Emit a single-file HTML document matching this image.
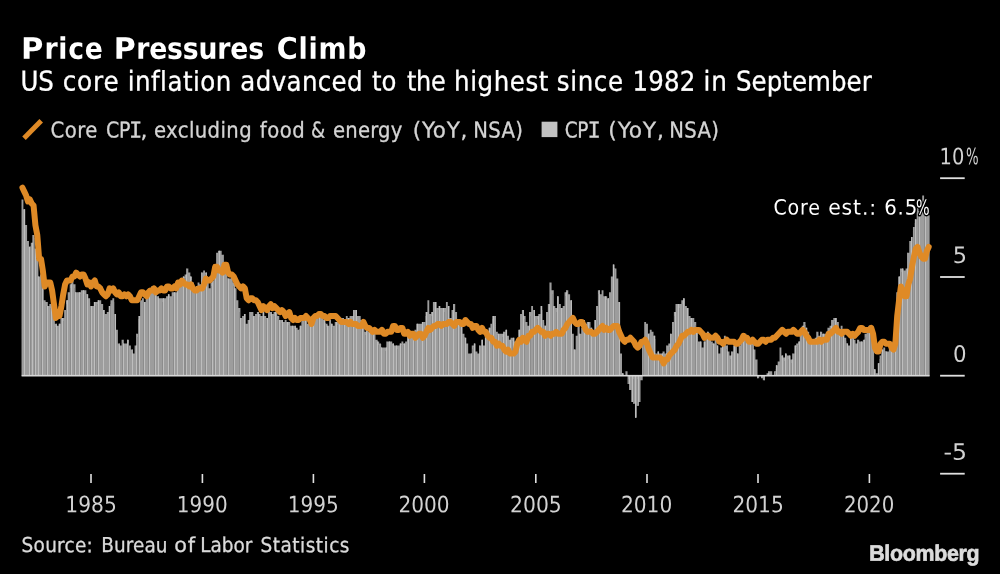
<!DOCTYPE html>
<html lang="en">
<head>
<meta charset="utf-8">
<title>Price Pressures Climb</title>
<style>
html,body{margin:0;padding:0;background:#000;}
body{width:1000px;height:574px;overflow:hidden;}
svg{display:block;}
text{font-family:"DejaVu Sans Condensed","DejaVu Sans","Liberation Sans",sans-serif;fill:#fff;white-space:pre;}
.title text{font-size:29.6px;font-weight:bold;fill:#fff;}
.sub text{font-size:27.2px;fill:#fff;stroke:#fff;stroke-width:0.3px;}
.leg text{font-size:21.8px;fill:#d4d4d4;stroke:#d4d4d4;stroke-width:0.3px;}
.ax text{font-size:22.5px;fill:#d2d2d2;}
.src text{font-size:20.5px;fill:#dadada;stroke:#dadada;stroke-width:0.3px;}
.ann text{font-size:21.0px;fill:#fff;stroke:#000;stroke-width:3px;paint-order:stroke;stroke-linejoin:round;}
.logo text{font-size:22.3px;font-family:"Liberation Sans","DejaVu Sans",sans-serif;font-weight:bold;fill:#dcdcdc;stroke:#dcdcdc;stroke-width:0.7px;letter-spacing:-0.3px;}
</style>
</head>
<body>
<svg width="1000" height="574" viewBox="0 0 1000 574">
<rect width="1000" height="574" fill="#000"/>
<g class="title">
<text transform="translate(20.97,58.66) rotate(0.05)"><tspan textLength="22.39" lengthAdjust="spacingAndGlyphs">P</tspan><tspan x="23.43" style='letter-spacing:0.80px;'>rice</tspan></text>
<text transform="translate(113.79,58.66) rotate(0.05)"><tspan textLength="21.96" lengthAdjust="spacingAndGlyphs">P</tspan><tspan x="22.36" style='letter-spacing:-0.13px;'>ressures</tspan></text>
<text transform="translate(276.66,58.66) rotate(0.05)"><tspan textLength="21.01" lengthAdjust="spacingAndGlyphs">C</tspan><tspan x="21.88" textLength="68.73" lengthAdjust="spacingAndGlyphs" style='letter-spacing:0.80px;'>limb</tspan></text>
</g>
<g class="sub">
<text transform="translate(20.60,90.6) rotate(0.05)" style='letter-spacing:-0.20px;'>US</text>
<text transform="translate(62.74,90.6) rotate(0.05) scale(1.0095,1)" style='letter-spacing:0.80px;'>core</text>
<text transform="translate(127.75,90.6) rotate(0.05)" style='letter-spacing:0.49px;'>inflation</text>
<text transform="translate(240.35,90.6) rotate(0.05)" style='letter-spacing:0.39px;'>advanced</text>
<text transform="translate(372.10,90.6) rotate(0.05) scale(0.9933,1)" style='letter-spacing:-0.20px;'>to</text>
<text transform="translate(406.91,90.6) rotate(0.05) scale(0.9764,1)" style='letter-spacing:-0.20px;'>the</text>
<text transform="translate(454.00,90.6) rotate(0.05)" style='letter-spacing:0.62px;'>highest</text>
<text transform="translate(556.75,90.6) rotate(0.05)" style='letter-spacing:0.69px;'>since</text>
<text transform="translate(632.50,90.6) rotate(0.05)" style='letter-spacing:0.17px;'>1982</text>
<text transform="translate(703.53,90.6) rotate(0.05) scale(1.0079,1)" style='letter-spacing:0.80px;'>in</text>
<text transform="translate(735.90,90.6) rotate(0.05)" style='letter-spacing:0.08px;'>September</text>
</g>
<line x1="24" y1="138.2" x2="41.2" y2="120.8" stroke="#df8a26" stroke-width="5"/>
<rect x="541.6" y="121.7" width="15.8" height="15.4" fill="#c2c2c2"/>
<g class="leg">
<text transform="translate(50.60,137.4) rotate(0.05)" style='letter-spacing:0.50px;'>Core</text>
<text transform="translate(106.03,137.4) rotate(0.05)"><tspan textLength="24.29" lengthAdjust="spacingAndGlyphs" style='letter-spacing:-0.20px;'>CP</tspan><tspan x="22.93" textLength="13.34" lengthAdjust="spacingAndGlyphs" style='font-family:"DejaVu Sans Mono","Liberation Mono",monospace;'>I</tspan><tspan x="34.58" textLength="6.91" lengthAdjust="spacingAndGlyphs">,</tspan></text>
<text transform="translate(154.00,137.4) rotate(0.05)" style='letter-spacing:0.41px;'>excluding</text>
<text transform="translate(259.75,137.4) rotate(0.05)" style='letter-spacing:0.50px;'>food</text>
<text transform="translate(311.07,137.4) rotate(0.05) scale(0.9286,1)">&amp;</text>
<text transform="translate(333.00,137.4) rotate(0.05)" style='letter-spacing:0.20px;'>energy</text>
<text transform="translate(412.76,137.4) rotate(0.05) scale(1.0905,1)" style='letter-spacing:0.80px;'>(YoY,</text>
<text transform="translate(473.25,137.4) rotate(0.05)" style='letter-spacing:0.38px;'>NSA)</text>
<text transform="translate(564.66,137.4) rotate(0.05)"><tspan textLength="23.65" lengthAdjust="spacingAndGlyphs" style='letter-spacing:-0.20px;'>CP</tspan><tspan x="22.91" textLength="13.34" lengthAdjust="spacingAndGlyphs" style='font-family:"DejaVu Sans Mono","Liberation Mono",monospace;'>I</tspan></text>
<text transform="translate(608.34,137.4) rotate(0.05) scale(1.1076,1)" style='letter-spacing:0.80px;'>(YoY,</text>
<text transform="translate(669.25,137.4) rotate(0.05)" style='letter-spacing:0.38px;'>NSA)</text>
</g>
<clipPath id="bc"><path d="M21.52,375.70L21.52,199.42L23.38,199.42L23.38,209.30L25.23,209.30L25.23,225.10L27.08,225.10L27.08,240.90L28.94,240.90L28.94,246.82L30.79,246.82L30.79,242.87L32.64,242.87L32.64,234.97L34.50,234.97L34.50,248.80L36.35,248.80L36.35,258.67L38.20,258.67L38.20,276.45L40.06,276.45L40.06,274.48L41.91,274.48L41.91,284.35L43.76,284.35L43.76,300.15L45.62,300.15L45.62,302.12L47.47,302.12L47.47,306.07L49.32,306.07L49.32,304.10L51.18,304.10L51.18,298.18L53.03,298.18L53.03,306.07L54.88,306.07L54.88,323.85L56.74,323.85L56.74,325.82L58.59,325.82L58.59,323.85L60.44,323.85L60.44,317.93L62.30,317.93L62.30,317.93L64.15,317.93L64.15,310.02L66.00,310.02L66.00,300.15L67.86,300.15L67.86,292.25L69.71,292.25L69.71,284.35L71.56,284.35L71.56,280.40L73.42,280.40L73.42,284.35L75.27,284.35L75.27,292.25L77.12,292.25L77.12,292.25L78.98,292.25L78.98,292.25L80.83,292.25L80.83,290.27L82.68,290.27L82.68,290.27L84.54,290.27L84.54,290.27L86.39,290.27L86.39,294.23L88.24,294.23L88.24,298.18L90.10,298.18L90.10,306.07L91.95,306.07L91.95,306.07L93.80,306.07L93.80,302.12L95.66,302.12L95.66,302.12L97.51,302.12L97.51,300.15L99.36,300.15L99.36,300.15L101.22,300.15L101.22,304.10L103.07,304.10L103.07,310.02L104.92,310.02L104.92,313.97L106.78,313.97L106.78,312.00L108.63,312.00L108.63,306.07L110.48,306.07L110.48,300.15L112.34,300.15L112.34,298.18L114.19,298.18L114.19,313.97L116.04,313.97L116.04,329.77L117.89,329.77L117.89,343.60L119.75,343.60L119.75,345.57L121.60,345.57L121.60,339.65L123.45,339.65L123.45,343.60L125.31,343.60L125.31,343.60L127.16,343.60L127.16,339.65L129.01,339.65L129.01,345.57L130.87,345.57L130.87,349.52L132.72,349.52L132.72,353.47L134.57,353.47L134.57,345.57L136.43,345.57L136.43,333.72L138.28,333.72L138.28,315.95L140.13,315.95L140.13,300.15L141.99,300.15L141.99,298.18L143.84,298.18L143.84,302.12L145.69,302.12L145.69,298.18L147.55,298.18L147.55,290.27L149.40,290.27L149.40,288.30L151.25,288.30L151.25,286.32L153.11,286.32L153.11,286.32L154.96,286.32L154.96,288.30L156.81,288.30L156.81,296.20L158.67,296.20L158.67,298.18L160.52,298.18L160.52,298.18L162.37,298.18L162.37,298.18L164.23,298.18L164.23,298.18L166.08,298.18L166.08,296.20L167.93,296.20L167.93,294.23L169.79,294.23L169.79,296.20L171.64,296.20L171.64,292.25L173.49,292.25L173.49,292.25L175.35,292.25L175.35,292.25L177.20,292.25L177.20,288.30L179.05,288.30L179.05,282.38L180.91,282.38L180.91,280.40L182.76,280.40L182.76,276.45L184.61,276.45L184.61,274.48L186.47,274.48L186.47,268.55L188.32,268.55L188.32,272.50L190.17,272.50L190.17,276.45L192.03,276.45L192.03,282.38L193.88,282.38L193.88,290.27L195.73,290.27L195.73,286.32L197.59,286.32L197.59,282.38L199.44,282.38L199.44,284.35L201.29,284.35L201.29,272.50L203.15,272.50L203.15,270.52L205.00,270.52L205.00,272.50L206.85,272.50L206.85,282.38L208.71,282.38L208.71,288.30L210.56,288.30L210.56,282.38L212.41,282.38L212.41,280.40L214.27,280.40L214.27,264.60L216.12,264.60L216.12,252.75L217.97,252.75L217.97,250.77L219.83,250.77L219.83,250.77L221.68,250.77L221.68,254.72L223.53,254.72L223.53,262.62L225.39,262.62L225.39,270.52L227.24,270.52L227.24,278.42L229.09,278.42L229.09,278.42L230.95,278.42L230.95,276.45L232.80,276.45L232.80,282.38L234.65,282.38L234.65,288.30L236.51,288.30L236.51,300.15L238.36,300.15L238.36,308.05L240.21,308.05L240.21,317.93L242.07,317.93L242.07,315.95L243.92,315.95L243.92,313.97L245.77,313.97L245.77,323.85L247.63,323.85L247.63,319.90L249.48,319.90L249.48,312.00L251.33,312.00L251.33,312.00L253.19,312.00L253.19,315.95L255.04,315.95L255.04,313.97L256.89,313.97L256.89,312.00L258.75,312.00L258.75,313.97L260.60,313.97L260.60,315.95L262.45,315.95L262.45,312.00L264.31,312.00L264.31,315.95L266.16,315.95L266.16,317.93L268.01,317.93L268.01,310.02L269.87,310.02L269.87,312.00L271.72,312.00L271.72,313.97L273.57,313.97L273.57,312.00L275.43,312.00L275.43,312.00L277.28,312.00L277.28,315.95L279.13,315.95L279.13,319.90L280.99,319.90L280.99,319.90L282.84,319.90L282.84,321.88L284.69,321.88L284.69,319.90L286.55,319.90L286.55,321.88L288.40,321.88L288.40,321.88L290.25,321.88L290.25,325.82L292.11,325.82L292.11,325.82L293.96,325.82L293.96,325.82L295.81,325.82L295.81,327.80L297.67,327.80L297.67,329.77L299.52,329.77L299.52,325.82L301.37,325.82L301.37,319.90L303.22,319.90L303.22,317.93L305.08,317.93L305.08,315.95L306.93,315.95L306.93,323.85L308.78,323.85L308.78,321.88L310.64,321.88L310.64,321.88L312.49,321.88L312.49,319.90L314.34,319.90L314.34,317.93L316.20,317.93L316.20,317.93L318.05,317.93L318.05,313.97L319.90,313.97L319.90,312.00L321.76,312.00L321.76,315.95L323.61,315.95L323.61,319.90L325.46,319.90L325.46,323.85L327.32,323.85L327.32,325.82L329.17,325.82L329.17,319.90L331.02,319.90L331.02,323.85L332.88,323.85L332.88,325.82L334.73,325.82L334.73,321.88L336.58,321.88L336.58,321.88L338.44,321.88L338.44,319.90L340.29,319.90L340.29,317.93L342.14,317.93L342.14,317.93L344.00,317.93L344.00,319.90L345.85,319.90L345.85,315.95L347.70,315.95L347.70,317.93L349.56,317.93L349.56,315.95L351.41,315.95L351.41,315.95L353.26,315.95L353.26,310.02L355.12,310.02L355.12,310.02L356.97,310.02L356.97,315.95L358.82,315.95L358.82,315.95L360.68,315.95L360.68,319.90L362.53,319.90L362.53,325.82L364.38,325.82L364.38,331.75L366.24,331.75L366.24,329.77L368.09,329.77L368.09,331.75L369.94,331.75L369.94,331.75L371.80,331.75L371.80,331.75L373.65,331.75L373.65,333.72L375.50,333.72L375.50,339.65L377.36,339.65L377.36,341.62L379.21,341.62L379.21,343.60L381.06,343.60L381.06,347.55L382.92,347.55L382.92,347.55L384.77,347.55L384.77,347.55L386.62,347.55L386.62,341.62L388.48,341.62L388.48,341.62L390.33,341.62L390.33,341.62L392.18,341.62L392.18,343.60L394.04,343.60L394.04,345.57L395.89,345.57L395.89,345.57L397.74,345.57L397.74,345.57L399.60,345.57L399.60,343.60L401.45,343.60L401.45,341.62L403.30,341.62L403.30,343.60L405.16,343.60L405.16,341.62L407.01,341.62L407.01,329.77L408.86,329.77L408.86,333.72L410.72,333.72L410.72,335.70L412.57,335.70L412.57,333.72L414.42,333.72L414.42,329.77L416.28,329.77L416.28,323.85L418.13,323.85L418.13,323.85L419.98,323.85L419.98,323.85L421.84,323.85L421.84,321.88L423.69,321.88L423.69,321.88L425.54,321.88L425.54,312.00L427.40,312.00L427.40,300.15L429.25,300.15L429.25,313.97L431.10,313.97L431.10,312.00L432.96,312.00L432.96,302.12L434.81,302.12L434.81,302.12L436.66,302.12L436.66,308.05L438.52,308.05L438.52,306.07L440.37,306.07L440.37,308.05L442.22,308.05L442.22,308.05L444.08,308.05L444.08,308.05L445.93,308.05L445.93,302.12L447.78,302.12L447.78,306.07L449.64,306.07L449.64,317.93L451.49,317.93L451.49,310.02L453.34,310.02L453.34,304.10L455.20,304.10L455.20,312.00L457.05,312.00L457.05,321.88L458.90,321.88L458.90,321.88L460.76,321.88L460.76,323.85L462.61,323.85L462.61,333.72L464.46,333.72L464.46,337.68L466.32,337.68L466.32,343.60L468.17,343.60L468.17,353.47L470.02,353.47L470.02,353.47L471.88,353.47L471.88,345.57L473.73,345.57L473.73,343.60L475.58,343.60L475.58,351.50L477.44,351.50L477.44,353.47L479.29,353.47L479.29,345.57L481.14,345.57L481.14,339.65L483.00,339.65L483.00,345.57L484.85,345.57L484.85,335.70L486.70,335.70L486.70,331.75L488.55,331.75L488.55,327.80L490.41,327.80L490.41,323.85L492.26,323.85L492.26,315.95L494.11,315.95L494.11,315.95L495.97,315.95L495.97,331.75L497.82,331.75L497.82,333.72L499.67,333.72L499.67,333.72L501.53,333.72L501.53,333.72L503.38,333.72L503.38,331.75L505.23,331.75L505.23,329.77L507.09,329.77L507.09,335.70L508.94,335.70L508.94,339.65L510.79,339.65L510.79,337.68L512.65,337.68L512.65,337.68L514.50,337.68L514.50,341.62L516.35,341.62L516.35,341.62L518.21,341.62L518.21,329.77L520.06,329.77L520.06,313.97L521.91,313.97L521.91,310.02L523.77,310.02L523.77,315.95L525.62,315.95L525.62,321.88L527.47,321.88L527.47,325.82L529.33,325.82L529.33,312.00L531.18,312.00L531.18,306.07L533.03,306.07L533.03,310.02L534.89,310.02L534.89,315.95L536.74,315.95L536.74,315.95L538.59,315.95L538.59,313.97L540.45,313.97L540.45,306.07L542.30,306.07L542.30,319.90L544.15,319.90L544.15,325.82L546.01,325.82L546.01,312.00L547.86,312.00L547.86,304.10L549.71,304.10L549.71,282.38L551.57,282.38L551.57,290.27L553.42,290.27L553.42,306.07L555.27,306.07L555.27,308.05L557.13,308.05L557.13,296.20L558.98,296.20L558.98,304.10L560.83,304.10L560.83,308.05L562.69,308.05L562.69,306.07L564.54,306.07L564.54,292.25L566.39,292.25L566.39,290.27L568.25,290.27L568.25,294.23L570.10,294.23L570.10,300.15L571.95,300.15L571.95,333.72L573.81,333.72L573.81,349.52L575.66,349.52L575.66,335.70L577.51,335.70L577.51,325.82L579.37,325.82L579.37,333.72L581.22,333.72L581.22,327.80L583.07,327.80L583.07,319.90L584.93,319.90L584.93,323.85L586.78,323.85L586.78,321.88L588.63,321.88L588.63,321.88L590.49,321.88L590.49,327.80L592.34,327.80L592.34,335.70L594.19,335.70L594.19,319.90L596.05,319.90L596.05,306.07L597.90,306.07L597.90,290.27L599.75,290.27L599.75,294.23L601.61,294.23L601.61,290.27L603.46,290.27L603.46,296.20L605.31,296.20L605.31,296.20L607.17,296.20L607.17,298.18L609.02,298.18L609.02,292.25L610.87,292.25L610.87,276.45L612.73,276.45L612.73,264.60L614.58,264.60L614.58,268.55L616.43,268.55L616.43,278.42L618.29,278.42L618.29,302.12L620.14,302.12L620.14,353.47L621.99,353.47L621.99,373.22L623.85,373.22L623.85,375.70L625.70,375.70L625.70,371.25L627.55,371.25L627.55,384.10L629.41,384.10L629.41,390.02L631.26,390.02L631.26,401.88L633.11,401.88L633.11,403.85L634.97,403.85L634.97,417.68L636.82,417.68L636.82,405.82L638.67,405.82L638.67,401.88L640.53,401.88L640.53,380.15L642.38,380.15L642.38,339.65L644.23,339.65L644.23,321.88L646.09,321.88L646.09,323.85L647.94,323.85L647.94,333.72L649.79,333.72L649.79,329.77L651.65,329.77L651.65,331.75L653.50,331.75L653.50,335.70L655.35,335.70L655.35,353.47L657.21,353.47L657.21,351.50L659.06,351.50L659.06,353.47L660.91,353.47L660.91,353.47L662.77,353.47L662.77,351.50L664.62,351.50L664.62,353.47L666.47,353.47L666.47,345.57L668.33,345.57L668.33,343.60L670.18,343.60L670.18,333.72L672.03,333.72L672.03,321.88L673.88,321.88L673.88,312.00L675.74,312.00L675.74,304.10L677.59,304.10L677.59,304.10L679.44,304.10L679.44,304.10L681.30,304.10L681.30,300.15L683.15,300.15L683.15,298.18L685.00,298.18L685.00,306.07L686.86,306.07L686.86,308.05L688.71,308.05L688.71,315.95L690.56,315.95L690.56,317.93L692.42,317.93L692.42,317.93L694.27,317.93L694.27,321.88L696.12,321.88L696.12,329.77L697.98,329.77L697.98,341.62L699.83,341.62L699.83,341.62L701.68,341.62L701.68,347.55L703.54,347.55L703.54,341.62L705.39,341.62L705.39,335.70L707.24,335.70L707.24,331.75L709.10,331.75L709.10,339.65L710.95,339.65L710.95,341.62L712.80,341.62L712.80,343.60L714.66,343.60L714.66,335.70L716.51,335.70L716.51,345.57L718.36,345.57L718.36,353.47L720.22,353.47L720.22,347.55L722.07,347.55L722.07,339.65L723.92,339.65L723.92,335.70L725.78,335.70L725.78,345.57L727.63,345.57L727.63,351.50L729.48,351.50L729.48,355.45L731.34,355.45L731.34,351.50L733.19,351.50L733.19,345.57L735.04,345.57L735.04,343.60L736.90,343.60L736.90,353.47L738.75,353.47L738.75,345.57L740.60,345.57L740.60,335.70L742.46,335.70L742.46,333.72L744.31,333.72L744.31,333.72L746.16,333.72L746.16,335.70L748.02,335.70L748.02,341.62L749.87,341.62L749.87,341.62L751.72,341.62L751.72,341.62L753.58,341.62L753.58,349.52L755.43,349.52L755.43,359.40L757.28,359.40L757.28,378.18L759.14,378.18L759.14,375.70L760.99,375.70L760.99,378.18L762.84,378.18L762.84,380.15L764.70,380.15L764.70,375.70L766.55,375.70L766.55,373.22L768.40,373.22L768.40,371.25L770.26,371.25L770.26,371.25L772.11,371.25L772.11,375.70L773.96,375.70L773.96,371.25L775.82,371.25L775.82,365.32L777.67,365.32L777.67,361.38L779.52,361.38L779.52,347.55L781.38,347.55L781.38,355.45L783.23,355.45L783.23,357.43L785.08,357.43L785.08,353.47L786.94,353.47L786.94,355.45L788.79,355.45L788.79,355.45L790.64,355.45L790.64,359.40L792.50,359.40L792.50,353.47L794.35,353.47L794.35,345.57L796.20,345.57L796.20,343.60L798.06,343.60L798.06,341.62L799.91,341.62L799.91,333.72L801.76,333.72L801.76,325.82L803.62,325.82L803.62,321.88L805.47,321.88L805.47,327.80L807.32,327.80L807.32,331.75L809.18,331.75L809.18,337.68L811.03,337.68L811.03,343.60L812.88,343.60L812.88,341.62L814.74,341.62L814.74,337.68L816.59,337.68L816.59,331.75L818.44,331.75L818.44,335.70L820.30,335.70L820.30,331.75L822.15,331.75L822.15,333.72L824.00,333.72L824.00,333.72L825.86,333.72L825.86,331.75L827.71,331.75L827.71,327.80L829.56,327.80L829.56,325.82L831.42,325.82L831.42,319.90L833.27,319.90L833.27,317.93L835.12,317.93L835.12,317.93L836.98,317.93L836.98,321.88L838.83,321.88L838.83,329.77L840.68,329.77L840.68,325.82L842.54,325.82L842.54,331.75L844.39,331.75L844.39,337.68L846.24,337.68L846.24,343.60L848.10,343.60L848.10,345.57L849.95,345.57L849.95,337.68L851.80,337.68L851.80,335.70L853.66,335.70L853.66,339.65L855.51,339.65L855.51,343.60L857.36,343.60L857.36,339.65L859.21,339.65L859.21,341.62L861.07,341.62L861.07,341.62L862.92,341.62L862.92,339.65L864.77,339.65L864.77,333.72L866.63,333.72L866.63,329.77L868.48,329.77L868.48,325.82L870.33,325.82L870.33,329.77L872.19,329.77L872.19,345.57L874.04,345.57L874.04,369.27L875.89,369.27L875.89,373.22L877.75,373.22L877.75,363.35L879.60,363.35L879.60,355.45L881.45,355.45L881.45,349.52L883.31,349.52L883.31,347.55L885.16,347.55L885.16,351.50L887.01,351.50L887.01,351.50L888.87,351.50L888.87,347.55L890.72,347.55L890.72,347.55L892.57,347.55L892.57,341.62L894.43,341.62L894.43,323.85L896.28,323.85L896.28,292.25L898.13,292.25L898.13,276.45L899.99,276.45L899.99,268.55L901.84,268.55L901.84,268.55L903.69,268.55L903.69,270.52L905.55,270.52L905.55,268.55L907.40,268.55L907.40,252.75L909.25,252.75L909.25,240.90L911.11,240.90L911.11,236.95L912.96,236.95L912.96,227.07L914.81,227.07L914.81,219.17L916.67,219.17L916.67,207.32L918.52,207.32L918.52,211.27L920.37,211.27L920.37,205.35L922.23,205.35L922.23,195.47L924.08,195.47L924.08,207.32L925.93,207.32L925.93,211.27L927.79,211.27L927.79,215.22L929.64,215.22L929.64,375.70Z"/></clipPath>
<path d="M21.52,375.70L21.52,199.42L23.38,199.42L23.38,209.30L25.23,209.30L25.23,225.10L27.08,225.10L27.08,240.90L28.94,240.90L28.94,246.82L30.79,246.82L30.79,242.87L32.64,242.87L32.64,234.97L34.50,234.97L34.50,248.80L36.35,248.80L36.35,258.67L38.20,258.67L38.20,276.45L40.06,276.45L40.06,274.48L41.91,274.48L41.91,284.35L43.76,284.35L43.76,300.15L45.62,300.15L45.62,302.12L47.47,302.12L47.47,306.07L49.32,306.07L49.32,304.10L51.18,304.10L51.18,298.18L53.03,298.18L53.03,306.07L54.88,306.07L54.88,323.85L56.74,323.85L56.74,325.82L58.59,325.82L58.59,323.85L60.44,323.85L60.44,317.93L62.30,317.93L62.30,317.93L64.15,317.93L64.15,310.02L66.00,310.02L66.00,300.15L67.86,300.15L67.86,292.25L69.71,292.25L69.71,284.35L71.56,284.35L71.56,280.40L73.42,280.40L73.42,284.35L75.27,284.35L75.27,292.25L77.12,292.25L77.12,292.25L78.98,292.25L78.98,292.25L80.83,292.25L80.83,290.27L82.68,290.27L82.68,290.27L84.54,290.27L84.54,290.27L86.39,290.27L86.39,294.23L88.24,294.23L88.24,298.18L90.10,298.18L90.10,306.07L91.95,306.07L91.95,306.07L93.80,306.07L93.80,302.12L95.66,302.12L95.66,302.12L97.51,302.12L97.51,300.15L99.36,300.15L99.36,300.15L101.22,300.15L101.22,304.10L103.07,304.10L103.07,310.02L104.92,310.02L104.92,313.97L106.78,313.97L106.78,312.00L108.63,312.00L108.63,306.07L110.48,306.07L110.48,300.15L112.34,300.15L112.34,298.18L114.19,298.18L114.19,313.97L116.04,313.97L116.04,329.77L117.89,329.77L117.89,343.60L119.75,343.60L119.75,345.57L121.60,345.57L121.60,339.65L123.45,339.65L123.45,343.60L125.31,343.60L125.31,343.60L127.16,343.60L127.16,339.65L129.01,339.65L129.01,345.57L130.87,345.57L130.87,349.52L132.72,349.52L132.72,353.47L134.57,353.47L134.57,345.57L136.43,345.57L136.43,333.72L138.28,333.72L138.28,315.95L140.13,315.95L140.13,300.15L141.99,300.15L141.99,298.18L143.84,298.18L143.84,302.12L145.69,302.12L145.69,298.18L147.55,298.18L147.55,290.27L149.40,290.27L149.40,288.30L151.25,288.30L151.25,286.32L153.11,286.32L153.11,286.32L154.96,286.32L154.96,288.30L156.81,288.30L156.81,296.20L158.67,296.20L158.67,298.18L160.52,298.18L160.52,298.18L162.37,298.18L162.37,298.18L164.23,298.18L164.23,298.18L166.08,298.18L166.08,296.20L167.93,296.20L167.93,294.23L169.79,294.23L169.79,296.20L171.64,296.20L171.64,292.25L173.49,292.25L173.49,292.25L175.35,292.25L175.35,292.25L177.20,292.25L177.20,288.30L179.05,288.30L179.05,282.38L180.91,282.38L180.91,280.40L182.76,280.40L182.76,276.45L184.61,276.45L184.61,274.48L186.47,274.48L186.47,268.55L188.32,268.55L188.32,272.50L190.17,272.50L190.17,276.45L192.03,276.45L192.03,282.38L193.88,282.38L193.88,290.27L195.73,290.27L195.73,286.32L197.59,286.32L197.59,282.38L199.44,282.38L199.44,284.35L201.29,284.35L201.29,272.50L203.15,272.50L203.15,270.52L205.00,270.52L205.00,272.50L206.85,272.50L206.85,282.38L208.71,282.38L208.71,288.30L210.56,288.30L210.56,282.38L212.41,282.38L212.41,280.40L214.27,280.40L214.27,264.60L216.12,264.60L216.12,252.75L217.97,252.75L217.97,250.77L219.83,250.77L219.83,250.77L221.68,250.77L221.68,254.72L223.53,254.72L223.53,262.62L225.39,262.62L225.39,270.52L227.24,270.52L227.24,278.42L229.09,278.42L229.09,278.42L230.95,278.42L230.95,276.45L232.80,276.45L232.80,282.38L234.65,282.38L234.65,288.30L236.51,288.30L236.51,300.15L238.36,300.15L238.36,308.05L240.21,308.05L240.21,317.93L242.07,317.93L242.07,315.95L243.92,315.95L243.92,313.97L245.77,313.97L245.77,323.85L247.63,323.85L247.63,319.90L249.48,319.90L249.48,312.00L251.33,312.00L251.33,312.00L253.19,312.00L253.19,315.95L255.04,315.95L255.04,313.97L256.89,313.97L256.89,312.00L258.75,312.00L258.75,313.97L260.60,313.97L260.60,315.95L262.45,315.95L262.45,312.00L264.31,312.00L264.31,315.95L266.16,315.95L266.16,317.93L268.01,317.93L268.01,310.02L269.87,310.02L269.87,312.00L271.72,312.00L271.72,313.97L273.57,313.97L273.57,312.00L275.43,312.00L275.43,312.00L277.28,312.00L277.28,315.95L279.13,315.95L279.13,319.90L280.99,319.90L280.99,319.90L282.84,319.90L282.84,321.88L284.69,321.88L284.69,319.90L286.55,319.90L286.55,321.88L288.40,321.88L288.40,321.88L290.25,321.88L290.25,325.82L292.11,325.82L292.11,325.82L293.96,325.82L293.96,325.82L295.81,325.82L295.81,327.80L297.67,327.80L297.67,329.77L299.52,329.77L299.52,325.82L301.37,325.82L301.37,319.90L303.22,319.90L303.22,317.93L305.08,317.93L305.08,315.95L306.93,315.95L306.93,323.85L308.78,323.85L308.78,321.88L310.64,321.88L310.64,321.88L312.49,321.88L312.49,319.90L314.34,319.90L314.34,317.93L316.20,317.93L316.20,317.93L318.05,317.93L318.05,313.97L319.90,313.97L319.90,312.00L321.76,312.00L321.76,315.95L323.61,315.95L323.61,319.90L325.46,319.90L325.46,323.85L327.32,323.85L327.32,325.82L329.17,325.82L329.17,319.90L331.02,319.90L331.02,323.85L332.88,323.85L332.88,325.82L334.73,325.82L334.73,321.88L336.58,321.88L336.58,321.88L338.44,321.88L338.44,319.90L340.29,319.90L340.29,317.93L342.14,317.93L342.14,317.93L344.00,317.93L344.00,319.90L345.85,319.90L345.85,315.95L347.70,315.95L347.70,317.93L349.56,317.93L349.56,315.95L351.41,315.95L351.41,315.95L353.26,315.95L353.26,310.02L355.12,310.02L355.12,310.02L356.97,310.02L356.97,315.95L358.82,315.95L358.82,315.95L360.68,315.95L360.68,319.90L362.53,319.90L362.53,325.82L364.38,325.82L364.38,331.75L366.24,331.75L366.24,329.77L368.09,329.77L368.09,331.75L369.94,331.75L369.94,331.75L371.80,331.75L371.80,331.75L373.65,331.75L373.65,333.72L375.50,333.72L375.50,339.65L377.36,339.65L377.36,341.62L379.21,341.62L379.21,343.60L381.06,343.60L381.06,347.55L382.92,347.55L382.92,347.55L384.77,347.55L384.77,347.55L386.62,347.55L386.62,341.62L388.48,341.62L388.48,341.62L390.33,341.62L390.33,341.62L392.18,341.62L392.18,343.60L394.04,343.60L394.04,345.57L395.89,345.57L395.89,345.57L397.74,345.57L397.74,345.57L399.60,345.57L399.60,343.60L401.45,343.60L401.45,341.62L403.30,341.62L403.30,343.60L405.16,343.60L405.16,341.62L407.01,341.62L407.01,329.77L408.86,329.77L408.86,333.72L410.72,333.72L410.72,335.70L412.57,335.70L412.57,333.72L414.42,333.72L414.42,329.77L416.28,329.77L416.28,323.85L418.13,323.85L418.13,323.85L419.98,323.85L419.98,323.85L421.84,323.85L421.84,321.88L423.69,321.88L423.69,321.88L425.54,321.88L425.54,312.00L427.40,312.00L427.40,300.15L429.25,300.15L429.25,313.97L431.10,313.97L431.10,312.00L432.96,312.00L432.96,302.12L434.81,302.12L434.81,302.12L436.66,302.12L436.66,308.05L438.52,308.05L438.52,306.07L440.37,306.07L440.37,308.05L442.22,308.05L442.22,308.05L444.08,308.05L444.08,308.05L445.93,308.05L445.93,302.12L447.78,302.12L447.78,306.07L449.64,306.07L449.64,317.93L451.49,317.93L451.49,310.02L453.34,310.02L453.34,304.10L455.20,304.10L455.20,312.00L457.05,312.00L457.05,321.88L458.90,321.88L458.90,321.88L460.76,321.88L460.76,323.85L462.61,323.85L462.61,333.72L464.46,333.72L464.46,337.68L466.32,337.68L466.32,343.60L468.17,343.60L468.17,353.47L470.02,353.47L470.02,353.47L471.88,353.47L471.88,345.57L473.73,345.57L473.73,343.60L475.58,343.60L475.58,351.50L477.44,351.50L477.44,353.47L479.29,353.47L479.29,345.57L481.14,345.57L481.14,339.65L483.00,339.65L483.00,345.57L484.85,345.57L484.85,335.70L486.70,335.70L486.70,331.75L488.55,331.75L488.55,327.80L490.41,327.80L490.41,323.85L492.26,323.85L492.26,315.95L494.11,315.95L494.11,315.95L495.97,315.95L495.97,331.75L497.82,331.75L497.82,333.72L499.67,333.72L499.67,333.72L501.53,333.72L501.53,333.72L503.38,333.72L503.38,331.75L505.23,331.75L505.23,329.77L507.09,329.77L507.09,335.70L508.94,335.70L508.94,339.65L510.79,339.65L510.79,337.68L512.65,337.68L512.65,337.68L514.50,337.68L514.50,341.62L516.35,341.62L516.35,341.62L518.21,341.62L518.21,329.77L520.06,329.77L520.06,313.97L521.91,313.97L521.91,310.02L523.77,310.02L523.77,315.95L525.62,315.95L525.62,321.88L527.47,321.88L527.47,325.82L529.33,325.82L529.33,312.00L531.18,312.00L531.18,306.07L533.03,306.07L533.03,310.02L534.89,310.02L534.89,315.95L536.74,315.95L536.74,315.95L538.59,315.95L538.59,313.97L540.45,313.97L540.45,306.07L542.30,306.07L542.30,319.90L544.15,319.90L544.15,325.82L546.01,325.82L546.01,312.00L547.86,312.00L547.86,304.10L549.71,304.10L549.71,282.38L551.57,282.38L551.57,290.27L553.42,290.27L553.42,306.07L555.27,306.07L555.27,308.05L557.13,308.05L557.13,296.20L558.98,296.20L558.98,304.10L560.83,304.10L560.83,308.05L562.69,308.05L562.69,306.07L564.54,306.07L564.54,292.25L566.39,292.25L566.39,290.27L568.25,290.27L568.25,294.23L570.10,294.23L570.10,300.15L571.95,300.15L571.95,333.72L573.81,333.72L573.81,349.52L575.66,349.52L575.66,335.70L577.51,335.70L577.51,325.82L579.37,325.82L579.37,333.72L581.22,333.72L581.22,327.80L583.07,327.80L583.07,319.90L584.93,319.90L584.93,323.85L586.78,323.85L586.78,321.88L588.63,321.88L588.63,321.88L590.49,321.88L590.49,327.80L592.34,327.80L592.34,335.70L594.19,335.70L594.19,319.90L596.05,319.90L596.05,306.07L597.90,306.07L597.90,290.27L599.75,290.27L599.75,294.23L601.61,294.23L601.61,290.27L603.46,290.27L603.46,296.20L605.31,296.20L605.31,296.20L607.17,296.20L607.17,298.18L609.02,298.18L609.02,292.25L610.87,292.25L610.87,276.45L612.73,276.45L612.73,264.60L614.58,264.60L614.58,268.55L616.43,268.55L616.43,278.42L618.29,278.42L618.29,302.12L620.14,302.12L620.14,353.47L621.99,353.47L621.99,373.22L623.85,373.22L623.85,375.70L625.70,375.70L625.70,371.25L627.55,371.25L627.55,384.10L629.41,384.10L629.41,390.02L631.26,390.02L631.26,401.88L633.11,401.88L633.11,403.85L634.97,403.85L634.97,417.68L636.82,417.68L636.82,405.82L638.67,405.82L638.67,401.88L640.53,401.88L640.53,380.15L642.38,380.15L642.38,339.65L644.23,339.65L644.23,321.88L646.09,321.88L646.09,323.85L647.94,323.85L647.94,333.72L649.79,333.72L649.79,329.77L651.65,329.77L651.65,331.75L653.50,331.75L653.50,335.70L655.35,335.70L655.35,353.47L657.21,353.47L657.21,351.50L659.06,351.50L659.06,353.47L660.91,353.47L660.91,353.47L662.77,353.47L662.77,351.50L664.62,351.50L664.62,353.47L666.47,353.47L666.47,345.57L668.33,345.57L668.33,343.60L670.18,343.60L670.18,333.72L672.03,333.72L672.03,321.88L673.88,321.88L673.88,312.00L675.74,312.00L675.74,304.10L677.59,304.10L677.59,304.10L679.44,304.10L679.44,304.10L681.30,304.10L681.30,300.15L683.15,300.15L683.15,298.18L685.00,298.18L685.00,306.07L686.86,306.07L686.86,308.05L688.71,308.05L688.71,315.95L690.56,315.95L690.56,317.93L692.42,317.93L692.42,317.93L694.27,317.93L694.27,321.88L696.12,321.88L696.12,329.77L697.98,329.77L697.98,341.62L699.83,341.62L699.83,341.62L701.68,341.62L701.68,347.55L703.54,347.55L703.54,341.62L705.39,341.62L705.39,335.70L707.24,335.70L707.24,331.75L709.10,331.75L709.10,339.65L710.95,339.65L710.95,341.62L712.80,341.62L712.80,343.60L714.66,343.60L714.66,335.70L716.51,335.70L716.51,345.57L718.36,345.57L718.36,353.47L720.22,353.47L720.22,347.55L722.07,347.55L722.07,339.65L723.92,339.65L723.92,335.70L725.78,335.70L725.78,345.57L727.63,345.57L727.63,351.50L729.48,351.50L729.48,355.45L731.34,355.45L731.34,351.50L733.19,351.50L733.19,345.57L735.04,345.57L735.04,343.60L736.90,343.60L736.90,353.47L738.75,353.47L738.75,345.57L740.60,345.57L740.60,335.70L742.46,335.70L742.46,333.72L744.31,333.72L744.31,333.72L746.16,333.72L746.16,335.70L748.02,335.70L748.02,341.62L749.87,341.62L749.87,341.62L751.72,341.62L751.72,341.62L753.58,341.62L753.58,349.52L755.43,349.52L755.43,359.40L757.28,359.40L757.28,378.18L759.14,378.18L759.14,375.70L760.99,375.70L760.99,378.18L762.84,378.18L762.84,380.15L764.70,380.15L764.70,375.70L766.55,375.70L766.55,373.22L768.40,373.22L768.40,371.25L770.26,371.25L770.26,371.25L772.11,371.25L772.11,375.70L773.96,375.70L773.96,371.25L775.82,371.25L775.82,365.32L777.67,365.32L777.67,361.38L779.52,361.38L779.52,347.55L781.38,347.55L781.38,355.45L783.23,355.45L783.23,357.43L785.08,357.43L785.08,353.47L786.94,353.47L786.94,355.45L788.79,355.45L788.79,355.45L790.64,355.45L790.64,359.40L792.50,359.40L792.50,353.47L794.35,353.47L794.35,345.57L796.20,345.57L796.20,343.60L798.06,343.60L798.06,341.62L799.91,341.62L799.91,333.72L801.76,333.72L801.76,325.82L803.62,325.82L803.62,321.88L805.47,321.88L805.47,327.80L807.32,327.80L807.32,331.75L809.18,331.75L809.18,337.68L811.03,337.68L811.03,343.60L812.88,343.60L812.88,341.62L814.74,341.62L814.74,337.68L816.59,337.68L816.59,331.75L818.44,331.75L818.44,335.70L820.30,335.70L820.30,331.75L822.15,331.75L822.15,333.72L824.00,333.72L824.00,333.72L825.86,333.72L825.86,331.75L827.71,331.75L827.71,327.80L829.56,327.80L829.56,325.82L831.42,325.82L831.42,319.90L833.27,319.90L833.27,317.93L835.12,317.93L835.12,317.93L836.98,317.93L836.98,321.88L838.83,321.88L838.83,329.77L840.68,329.77L840.68,325.82L842.54,325.82L842.54,331.75L844.39,331.75L844.39,337.68L846.24,337.68L846.24,343.60L848.10,343.60L848.10,345.57L849.95,345.57L849.95,337.68L851.80,337.68L851.80,335.70L853.66,335.70L853.66,339.65L855.51,339.65L855.51,343.60L857.36,343.60L857.36,339.65L859.21,339.65L859.21,341.62L861.07,341.62L861.07,341.62L862.92,341.62L862.92,339.65L864.77,339.65L864.77,333.72L866.63,333.72L866.63,329.77L868.48,329.77L868.48,325.82L870.33,325.82L870.33,329.77L872.19,329.77L872.19,345.57L874.04,345.57L874.04,369.27L875.89,369.27L875.89,373.22L877.75,373.22L877.75,363.35L879.60,363.35L879.60,355.45L881.45,355.45L881.45,349.52L883.31,349.52L883.31,347.55L885.16,347.55L885.16,351.50L887.01,351.50L887.01,351.50L888.87,351.50L888.87,347.55L890.72,347.55L890.72,347.55L892.57,347.55L892.57,341.62L894.43,341.62L894.43,323.85L896.28,323.85L896.28,292.25L898.13,292.25L898.13,276.45L899.99,276.45L899.99,268.55L901.84,268.55L901.84,268.55L903.69,268.55L903.69,270.52L905.55,270.52L905.55,268.55L907.40,268.55L907.40,252.75L909.25,252.75L909.25,240.90L911.11,240.90L911.11,236.95L912.96,236.95L912.96,227.07L914.81,227.07L914.81,219.17L916.67,219.17L916.67,207.32L918.52,207.32L918.52,211.27L920.37,211.27L920.37,205.35L922.23,205.35L922.23,195.47L924.08,195.47L924.08,207.32L925.93,207.32L925.93,211.27L927.79,211.27L927.79,215.22L929.64,215.22L929.64,375.70Z" fill="#9d9d9d"/>
<g clip-path="url(#bc)" fill="none" stroke-width="1">
<path d="M30.5,246V377M34.5,238V377M41.5,278V377M46.5,306V377M50.5,308V377M55.5,327V377M63.5,321V377M66.5,304V377M70.5,288V377M74.5,288V377M80.5,294V377M84.5,294V377M86.5,294V377M90.5,302V377M95.5,306V377M97.5,304V377M110.5,304V377M114.5,302V377M122.5,343V377M128.5,343V377M137.5,337V377M138.5,319V377M143.5,302V377M148.5,294V377M154.5,290V377M162.5,302V377M169.5,298V377M173.5,296V377M184.5,278V377M185.5,278V377M191.5,280V377M195.5,290V377M205.5,274V377M211.5,286V377M214.5,268V377M227.5,274V377M233.5,286V377M239.5,312V377M259.5,317V377M266.5,319V377M270.5,316V377M274.5,316V377M278.5,319V377M281.5,323V377M288.5,325V377M294.5,329V377M299.5,329V377M304.5,321V377M309.5,325V377M318.5,317V377M325.5,323V377M326.5,327V377M332.5,327V377M337.5,325V377M343.5,321V377M352.5,319V377M361.5,323V377M365.5,335V377M372.5,335V377M378.5,345V377M385.5,351V377M397.5,349V377M401.5,345V377M403.5,345V377M409.5,337V377M414.5,333V377M425.5,316V377M431.5,316V377M438.5,310V377M444.5,312V377M447.5,306V377M457.5,316V377M460.5,325V377M464.5,337V377M472.5,349V377M473.5,347V377M488.5,331V377M492.5,319V377M497.5,335V377M502.5,337V377M512.5,341V377M524.5,319V377M530.5,316V377M533.5,310V377M537.5,319V377M542.5,310V377M544.5,323V377M552.5,294V377M556.5,312V377M565.5,296V377M589.5,325V377M596.5,310V377M598.5,294V377M606.5,300V377M609.5,296V377M614.5,268V377M628.5,379V385M633.5,379V404M637.5,379V406M643.5,343V377M649.5,333V377M655.5,339V377M659.5,355V377M669.5,347V377M674.5,316V377M679.5,308V377M682.5,304V377M695.5,325V377M706.5,339V377M712.5,345V377M716.5,339V377M726.5,349V377M730.5,359V377M736.5,347V377M742.5,337V377M745.5,337V377M751.5,345V377M752.5,345V377M775.5,369V377M784.5,361V377M788.5,359V377M791.5,363V377M796.5,347V377M798.5,345V377M802.5,329V377M805.5,325V377M821.5,335V377M824.5,337V377M830.5,329V377M834.5,321V377M840.5,329V377M842.5,329V377M846.5,341V377M852.5,339V377M858.5,343V377M865.5,337V377M870.5,329V377M879.5,359V377M881.5,353V377M885.5,351V377M894.5,327V377M898.5,280V377M901.5,272V377M912.5,231V377M914.5,223V377M918.5,211V377M924.5,199V377" stroke="#8c8c8c"/>
<path d="M24.5,209V377M29.5,246V377M32.5,234V377M35.5,248V377M38.5,258V377M42.5,284V377M47.5,302V377M51.5,298V377M56.5,323V377M59.5,323V377M62.5,317V377M67.5,292V377M71.5,280V377M75.5,284V377M79.5,292V377M83.5,290V377M87.5,294V377M91.5,306V377M94.5,302V377M98.5,300V377M103.5,304V377M109.5,306V377M115.5,313V377M119.5,343V377M123.5,339V377M127.5,339V377M132.5,349V377M136.5,333V377M139.5,315V377M144.5,302V377M149.5,288V377M155.5,288V377M158.5,296V377M163.5,298V377M168.5,294V377M174.5,292V377M177.5,288V377M183.5,276V377M186.5,268V377M190.5,272V377M196.5,286V377M201.5,272V377M206.5,272V377M212.5,280V377M215.5,264V377M219.5,250V377M223.5,254V377M228.5,278V377M234.5,282V377M240.5,308V377M244.5,313V377M249.5,312V377M253.5,312V377M258.5,312V377M263.5,312V377M267.5,317V377M271.5,312V377M275.5,312V377M279.5,315V377M282.5,319V377M287.5,321V377M292.5,325V377M295.5,325V377M300.5,325V377M305.5,315V377M310.5,321V377M313.5,319V377M319.5,312V377M324.5,319V377M327.5,323V377M331.5,319V377M336.5,321V377M339.5,319V377M344.5,319V377M348.5,317V377M353.5,310V377M356.5,310V377M362.5,319V377M366.5,329V377M369.5,331V377M373.5,331V377M377.5,339V377M381.5,343V377M386.5,341V377M389.5,341V377M393.5,343V377M396.5,345V377M400.5,343V377M404.5,343V377M408.5,329V377M413.5,333V377M417.5,323V377M422.5,321V377M426.5,312V377M432.5,302V377M435.5,302V377M439.5,306V377M443.5,308V377M448.5,306V377M453.5,304V377M458.5,321V377M461.5,323V377M465.5,337V377M471.5,345V377M474.5,343V377M479.5,345V377M482.5,339V377M485.5,335V377M489.5,327V377M493.5,315V377M498.5,333V377M503.5,331V377M506.5,329V377M510.5,337V377M513.5,337V377M519.5,329V377M523.5,310V377M529.5,312V377M534.5,310V377M538.5,313V377M541.5,306V377M545.5,325V377M549.5,282V377M553.5,290V377M557.5,296V377M561.5,308V377M566.5,290V377M571.5,300V377M574.5,349V377M579.5,325V377M584.5,319V377M588.5,321V377M591.5,327V377M595.5,319V377M599.5,290V377M605.5,296V377M608.5,298V377M613.5,264V377M619.5,302V377M622.5,373V377M625.5,371V377M629.5,375V391M632.5,375V402M635.5,375V418M638.5,375V406M642.5,339V381M648.5,333V377M654.5,335V377M658.5,351V377M662.5,351V377M666.5,345V377M670.5,333V377M675.5,304V377M678.5,304V377M683.5,298V377M687.5,308V377M691.5,317V377M696.5,321V377M700.5,341V377M704.5,341V377M707.5,331V377M713.5,343V377M717.5,345V377M722.5,339V377M727.5,345V377M731.5,351V377M734.5,345V377M737.5,353V377M743.5,333V377M746.5,333V377M750.5,341V377M753.5,341V377M757.5,359V379M760.5,375V379M764.5,375V381M768.5,371V377M772.5,371V377M776.5,365V377M782.5,355V377M785.5,353V377M789.5,355V377M792.5,353V377M795.5,345V377M799.5,333V377M803.5,321V377M806.5,327V377M811.5,337V377M816.5,331V377M820.5,331V377M823.5,333V377M827.5,327V377M831.5,319V377M835.5,317V377M839.5,329V377M843.5,331V377M847.5,343V377M850.5,337V377M853.5,335V377M857.5,339V377M861.5,341V377M864.5,333V377M869.5,325V377M874.5,345V377M878.5,363V377M882.5,349V377M886.5,351V377M891.5,347V377M895.5,323V377M899.5,268V377M902.5,268V377M907.5,252V377M911.5,236V377M915.5,219V377M919.5,211V377M925.5,207V377" stroke="#bebebe"/>
</g>
<rect x="21.6" y="374.9" width="908" height="1.6" fill="#d8d8d8"/>
<polyline points="22.45,187.67 24.30,191.62 26.16,195.57 28.01,201.50 29.86,199.52 31.72,203.47 33.57,205.45 35.42,225.20 37.28,235.07 39.13,258.77 40.98,258.77 42.84,270.62 44.69,286.43 46.54,282.48 48.40,282.48 50.25,282.48 52.10,290.38 53.96,304.20 55.81,318.03 57.66,316.05 59.52,316.05 61.37,306.18 63.22,294.33 65.08,284.45 66.93,280.50 68.78,280.50 70.64,280.50 72.49,276.55 74.34,276.55 76.20,272.60 78.05,274.58 79.90,276.55 81.76,274.58 83.61,274.58 85.46,278.52 87.32,284.45 89.17,282.48 91.02,286.43 92.88,282.48 94.73,280.50 96.58,286.43 98.44,286.43 100.29,288.40 102.14,292.35 104.00,294.33 105.85,296.30 107.70,294.33 109.56,288.40 111.41,290.38 113.26,288.40 115.11,292.35 116.97,294.33 118.82,292.35 120.67,296.30 122.53,296.30 124.38,294.33 126.23,296.30 128.09,294.33 129.94,296.30 131.79,300.25 133.65,300.25 135.50,300.25 137.35,300.25 139.21,296.30 141.06,292.35 142.91,292.35 144.77,294.33 146.62,296.30 148.47,292.35 150.33,290.38 152.18,290.38 154.03,288.40 155.89,292.35 157.74,290.38 159.59,290.38 161.45,288.40 163.30,290.38 165.15,290.38 167.01,286.43 168.86,286.43 170.71,288.40 172.57,288.40 174.42,286.43 176.27,288.40 178.13,282.48 179.98,284.45 181.83,280.50 183.69,282.48 185.54,284.45 187.39,284.45 189.25,286.43 191.10,284.45 192.95,288.40 194.81,290.38 196.66,290.38 198.51,288.40 200.37,288.40 202.22,288.40 204.07,284.45 205.93,278.52 207.78,280.50 209.63,280.50 211.49,278.52 213.34,276.55 215.19,266.68 217.05,266.68 218.90,270.62 220.75,270.62 222.61,272.60 224.46,264.70 226.31,264.70 228.17,272.60 230.02,274.58 231.87,274.58 233.73,276.55 235.58,280.50 237.43,284.45 239.29,286.43 241.14,288.40 242.99,286.43 244.85,288.40 246.70,298.28 248.55,300.25 250.41,298.28 252.26,298.28 254.11,300.25 255.97,300.25 257.82,302.23 259.67,306.18 261.53,310.12 263.38,306.18 265.23,308.15 267.09,310.12 268.94,306.18 270.79,304.20 272.65,308.15 274.50,306.18 276.35,308.15 278.21,310.12 280.06,312.10 281.91,310.12 283.77,312.10 285.62,316.05 287.47,314.07 289.33,312.10 291.18,318.03 293.03,320.00 294.89,318.03 296.74,320.00 298.59,320.00 300.44,318.03 302.30,318.03 304.15,318.03 306.00,316.05 307.86,318.03 309.71,320.00 311.56,323.95 313.42,318.03 315.27,316.05 317.12,316.05 318.98,314.07 320.83,314.07 322.68,316.05 324.54,316.05 326.39,318.03 328.24,318.03 330.10,316.05 331.95,316.05 333.80,316.05 335.66,316.05 337.51,318.03 339.36,320.00 341.22,321.98 343.07,321.98 344.92,321.98 346.78,321.98 348.63,323.95 350.48,321.98 352.34,323.95 354.19,323.95 356.04,323.95 357.90,325.93 359.75,325.93 361.60,325.93 363.46,321.98 365.31,325.93 367.16,327.90 369.02,327.90 370.87,329.88 372.72,331.85 374.58,329.88 376.43,331.85 378.28,331.85 380.14,331.85 381.99,329.88 383.84,333.82 385.70,333.82 387.55,331.85 389.40,331.85 391.26,331.85 393.11,325.93 394.96,325.93 396.82,329.88 398.67,329.88 400.52,327.90 402.38,327.90 404.23,333.82 406.08,333.82 407.94,331.85 409.79,335.80 411.64,333.82 413.50,333.82 415.35,337.78 417.20,335.80 419.06,333.82 420.91,333.82 422.76,337.78 424.62,335.80 426.47,331.85 428.32,327.90 430.18,329.88 432.03,327.90 433.88,325.93 435.74,325.93 437.59,323.95 439.44,323.95 441.30,325.93 443.15,323.95 445.00,323.95 446.86,323.95 448.71,321.98 450.56,321.98 452.42,323.95 454.27,325.93 456.12,321.98 457.98,321.98 459.83,321.98 461.68,323.95 463.54,323.95 465.39,320.00 467.24,321.98 469.10,323.95 470.95,323.95 472.80,327.90 474.66,325.93 476.51,325.93 478.36,329.88 480.22,331.85 482.07,327.90 483.92,331.85 485.77,331.85 487.63,335.80 489.48,337.78 491.33,337.78 493.19,341.73 495.04,341.73 496.89,345.68 498.75,343.70 500.60,345.68 502.45,345.68 504.31,349.62 506.16,351.60 508.01,349.62 509.87,353.57 511.72,353.57 513.57,353.57 515.43,351.60 517.28,343.70 519.13,339.75 520.99,341.73 522.84,337.78 524.69,339.75 526.55,341.73 528.40,335.80 530.25,335.80 532.11,331.85 533.96,331.85 535.81,329.88 537.67,327.90 539.52,329.88 541.37,331.85 543.23,331.85 545.08,335.80 546.93,333.82 548.79,333.82 550.64,335.80 552.49,333.82 554.35,333.82 556.20,331.85 558.05,333.82 559.91,333.82 561.76,333.82 563.61,329.88 565.47,327.90 567.32,323.95 569.17,321.98 571.03,320.00 572.88,318.03 574.73,321.98 576.59,323.95 578.44,323.95 580.29,321.98 582.15,321.98 584.00,325.93 585.85,329.88 587.71,331.85 589.56,331.85 591.41,331.85 593.27,333.82 595.12,333.82 596.97,331.85 598.83,329.88 600.68,327.90 602.53,325.93 604.39,329.88 606.24,327.90 608.09,329.88 609.95,329.88 611.80,327.90 613.65,325.93 615.51,325.93 617.36,325.93 619.21,331.85 621.07,335.80 622.92,339.75 624.77,341.73 626.63,339.75 628.48,339.75 630.33,337.78 632.19,339.75 634.04,341.73 635.89,345.68 637.75,347.65 639.60,345.68 641.45,341.73 643.31,341.73 645.16,339.75 647.01,343.70 648.87,349.62 650.72,353.57 652.57,357.53 654.43,357.53 656.28,357.53 658.13,357.53 659.99,357.53 661.84,359.50 663.69,363.45 665.55,359.50 667.40,359.50 669.25,355.55 671.11,353.57 672.96,351.60 674.81,349.62 676.66,345.68 678.52,343.70 680.37,339.75 682.22,335.80 684.08,335.80 685.93,333.82 687.78,331.85 689.64,331.85 691.49,329.88 693.34,331.85 695.20,329.88 697.05,329.88 698.90,329.88 700.76,331.85 702.61,333.82 704.46,337.78 706.32,335.80 708.17,335.80 710.02,337.78 711.88,337.78 713.73,337.78 715.58,335.80 717.44,337.78 719.29,341.73 721.14,341.73 723.00,343.70 724.85,341.73 726.70,339.75 728.56,341.73 730.41,341.73 732.26,341.73 734.12,341.73 735.97,343.70 737.82,343.70 739.68,341.73 741.53,339.75 743.38,335.80 745.24,337.78 747.09,337.78 748.94,341.73 750.80,341.73 752.65,339.75 754.50,341.73 756.36,343.70 758.21,343.70 760.06,341.73 761.92,339.75 763.77,339.75 765.62,341.73 767.48,339.75 769.33,339.75 771.18,339.75 773.04,337.78 774.89,337.78 776.74,335.80 778.60,333.82 780.45,331.85 782.30,329.88 784.16,331.85 786.01,333.82 787.86,331.85 789.72,331.85 791.57,331.85 793.42,329.88 795.28,331.85 797.13,333.82 798.98,333.82 800.84,331.85 802.69,329.88 804.54,331.85 806.40,335.80 808.25,337.78 810.10,341.73 811.96,341.73 813.81,341.73 815.66,341.73 817.52,341.73 819.37,339.75 821.22,341.73 823.08,339.75 824.93,339.75 826.78,339.75 828.64,333.82 830.49,333.82 832.34,331.85 834.20,329.88 836.05,327.90 837.90,331.85 839.76,331.85 841.61,333.82 843.46,331.85 845.32,331.85 847.17,331.85 849.02,333.82 850.88,335.80 852.73,333.82 854.58,335.80 856.44,333.82 858.29,331.85 860.14,327.90 861.99,327.90 863.85,329.88 865.70,329.88 867.55,329.88 869.41,329.88 871.26,327.90 873.11,333.82 874.97,347.65 876.82,351.60 878.67,351.60 880.53,343.70 882.38,341.73 884.23,341.73 886.09,343.70 887.94,343.70 889.79,343.70 891.65,347.65 893.50,349.62 895.35,343.70 897.21,316.05 899.06,300.25 900.91,286.43 902.77,290.38 904.62,296.30 906.47,296.30 908.33,284.45 910.18,278.52 912.03,266.68 913.89,256.80 915.74,248.90 917.59,246.92 919.45,252.85 921.30,256.80 923.15,258.77 925.01,258.77 926.86,250.87 928.71,246.92" fill="none" stroke="#df8a26" stroke-width="6" stroke-linejoin="round" stroke-linecap="round"/>
<g fill="#e0e0e0"><rect x="940.1" y="177.30" width="24.6" height="1.8"/><rect x="940.1" y="276.10" width="24.6" height="1.8"/><rect x="940.1" y="374.80" width="24.6" height="1.8"/><rect x="940.1" y="472.80" width="24.6" height="1.8"/><rect x="90.20" y="474" width="1.6" height="9"/><rect x="201.60" y="474" width="1.6" height="9"/><rect x="312.60" y="474" width="1.6" height="9"/><rect x="423.60" y="474" width="1.6" height="9"/><rect x="535.00" y="474" width="1.6" height="9"/><rect x="646.20" y="474" width="1.6" height="9"/><rect x="757.20" y="474" width="1.6" height="9"/><rect x="868.60" y="474" width="1.6" height="9"/></g>
<g class="ax">
<text transform="translate(65.35,512.3) rotate(0.05) scale(0.9979,1)">1985</text>
<text transform="translate(176.78,512.3) rotate(0.05) scale(0.9875,1)">1990</text>
<text transform="translate(287.77,512.3) rotate(0.05) scale(0.9895,1)">1995</text>
<text transform="translate(398.51,512.3) rotate(0.05) scale(0.9928,1)">2000</text>
<text transform="translate(510.10,512.3) rotate(0.05) scale(1.0031,1)">2005</text>
<text transform="translate(620.90,512.3) rotate(0.05) scale(0.9969,1)">2010</text>
<text transform="translate(732.51,512.3) rotate(0.05) scale(0.9948,1)">2015</text>
<text transform="translate(843.94,512.3) rotate(0.05) scale(0.9764,1)">2020</text>
<text transform="translate(939.54,164.3) rotate(0.05)"><tspan textLength="24.78" lengthAdjust="spacingAndGlyphs">10</tspan><tspan x="26.55" textLength="12.57" lengthAdjust="spacingAndGlyphs">%</tspan></text>
<text transform="translate(952.64,263.1) rotate(0.05) scale(1.1077,1)">5</text>
<text transform="translate(952.98,361.8) rotate(0.05) scale(1.0537,1)">0</text>
<text transform="translate(943.53,459.7) rotate(0.05) scale(1.1657,1)">-5</text>
</g>
<g class="ann">
<text transform="translate(773.39,214.6) rotate(0.05) scale(1.0102,1)" style='letter-spacing:0.80px;'>Core</text>
<text transform="translate(828.22,214.6) rotate(0.05) scale(1.0777,1)" style='letter-spacing:0.80px;'>est.:</text>
<text transform="translate(884.20,214.6) rotate(0.05)"><tspan textLength="33.85" lengthAdjust="spacingAndGlyphs" style='letter-spacing:0.80px;'>6.5</tspan><tspan x="31.75" textLength="13.59" lengthAdjust="spacingAndGlyphs">%</tspan></text>
</g>
<g class="src">
<text transform="translate(21.60,552.1) rotate(0.05)" style='letter-spacing:0.28px;'>Source:</text>
<text transform="translate(101.25,552.1) rotate(0.05)" style='letter-spacing:0.10px;'>Bureau</text>
<text transform="translate(174.16,552.1) rotate(0.05) scale(1.1257,1)" style='letter-spacing:0.80px;'>of</text>
<text transform="translate(200.25,552.1) rotate(0.05)" style='letter-spacing:-0.02px;'>Labor</text>
<text transform="translate(260.60,552.1) rotate(0.05)" style='letter-spacing:0.50px;'>Statistics</text>
</g>
<g class="logo">
<text transform="translate(869.20,560.7) rotate(0.05) scale(0.9575,1)">Bloomberg</text>
</g>
</svg>
</body>
</html>
